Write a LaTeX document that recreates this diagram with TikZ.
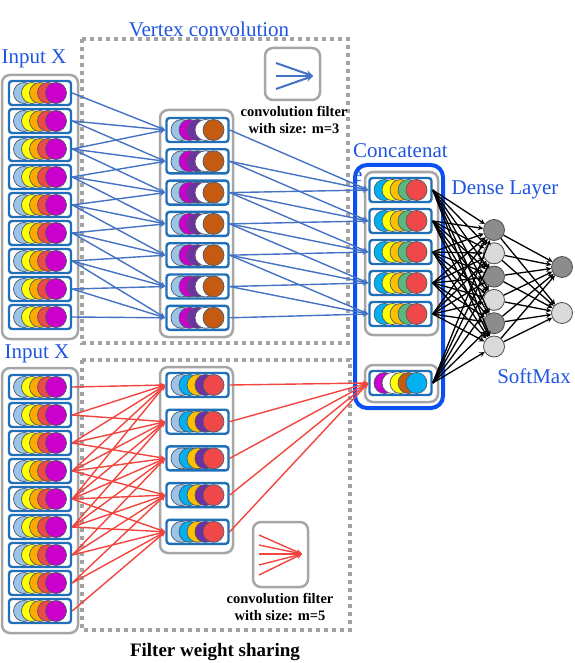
\documentclass[tikz,border=0pt]{standalone}
\usepackage{fontspec}
\setmainfont{Liberation Serif}
\usetikzlibrary{positioning}

\definecolor{panelgray}{HTML}{A6A6A6}
\definecolor{dotgray}{HTML}{A3A3A3}
\definecolor{rowblue}{HTML}{1F70B8}
\definecolor{circedge}{HTML}{4A5A70}
\definecolor{linkblue}{HTML}{4472C4}
\definecolor{linkred}{HTML}{F2453D}
\definecolor{titleblue}{HTML}{1F55E0}
\definecolor{catblue}{HTML}{0A50F0}
\definecolor{lblue}{HTML}{9DC3E6}
\definecolor{yel}{HTML}{FFFF00}
\definecolor{org}{HTML}{FFA800}
\definecolor{gold}{HTML}{FFC000}
\definecolor{redc}{HTML}{F04848}
\definecolor{mag}{HTML}{CC00CC}
\definecolor{purp}{HTML}{7030A0}
\definecolor{brown}{HTML}{C55A11}
\definecolor{cyan}{HTML}{00B0F0}
\definecolor{greenc}{HTML}{5CB87A}
\definecolor{darkn}{HTML}{8C8C8C}
\definecolor{lightn}{HTML}{DADADA}

\tikzset{
  panel/.style={draw=panelgray, line width=2.5pt, rounded corners=8pt, fill=white},
  cellbox/.style={draw=rowblue, line width=2.4pt, rounded corners=3pt, fill=white,
    minimum width=62pt, minimum height=24pt, inner sep=0pt},
  dotbox/.style={draw=dotgray, line width=4pt, dash pattern=on 4pt off 4pt},
  bluelink/.style={-stealth, draw=linkblue, line width=1.4pt},
  redlink/.style={-stealth, draw=linkred, line width=1.4pt},
  denselink/.style={-stealth, draw=black, line width=1.3pt},
  neuron/.style={circle, draw=gray!60!black, line width=0.8pt, minimum size=21pt, inner sep=0pt},
  bluetitle/.style={text=titleblue, font=\fontsize{21}{24}\selectfont, inner sep=0pt},
  filternote/.style={font=\bfseries\fontsize{14.5}{16.5}\selectfont, align=center, inner sep=0pt},
}

% one row of overlapping feature circles
\newcommand\cellrow[4]{%
  \node[cellbox] (#1) at (#2,#3) {};
  \foreach \col [count=\k from 0] in {#4}
    \filldraw[fill=\col, draw=circedge, line width=0.7pt] ({#2-16+8*\k},#3) circle[radius=10.5pt];
}

\begin{document}
\begin{tikzpicture}[x=1pt, y=-1pt]
    \useasboundingbox (0,0) rectangle (574,663);

    % Dotted frames
    \draw[dotbox] (82,39) rectangle (348,343);
    \draw[dotbox] (82,360) rectangle (350,630);

    % Concatenate frame
    \draw[draw=catblue, line width=4pt, rounded corners=12pt] (355,165) rectangle (443,408);
    \node[bluetitle, anchor=north west, align=left] (cattitle) at (353,143.5) {Concatenat\\e};

    % Gray panels
    \draw[panel] (2,75) rectangle (78,339);
    \draw[panel] (160,110) rectangle (233,337);
    \draw[panel] (2,368) rectangle (78,633);
    \draw[panel] (160,367) rectangle (233,553);
    \draw[panel] (365,172) rectangle (438,335);
    \draw[panel] (365,365) rectangle (438,402);

    % Input X (top)
    \foreach \i in {1,...,9} {
      \pgfmathsetmacro\yy{93+28*(\i-1)}
      \cellrow{in\i}{40}{\yy}{lblue,yel,org,redc,mag}
    }
    % Vertex convolution output
    \foreach \j in {1,...,7} {
      \pgfmathsetmacro\yy{130+31.3*(\j-1)}
      \cellrow{mid\j}{197.5}{\yy}{lblue,mag,purp,white,brown}
    }
    % Input X (bottom)
    \foreach \i in {1,...,9} {
      \pgfmathsetmacro\yy{387+28*(\i-1)}
      \cellrow{bin\i}{40}{\yy}{lblue,yel,org,redc,mag}
    }
    % Filter weight sharing output
    \foreach \j in {1,...,5} {
      \pgfmathsetmacro\yy{385+36.7*(\j-1)}
      \cellrow{bmid\j}{197.5}{\yy}{lblue,cyan,gold,purp,redc}
    }
    % Concatenated rows
    \foreach \j in {1,...,5} {
      \pgfmathsetmacro\yy{190+31*(\j-1)}
      \cellrow{cat\j}{400.5}{\yy}{cyan,yel,gold,greenc,redc}
    }
    \cellrow{catb}{400.5}{383}{mag,white,yel,brown,cyan}

    % Dense layer and softmax
    \foreach \k/\shade in {1/darkn,2/lightn,3/darkn,4/lightn,5/darkn,6/lightn} {
      \pgfmathsetmacro\yy{230+23.3*(\k-1)}
      \node[neuron, fill=\shade] (d\k) at (494,\yy) {};
    }
    \node[neuron, fill=darkn] (s1) at (562,267) {};
    \node[neuron, fill=lightn] (s2) at (562,313) {};

    % Arrows, top branch (m=3)
    \foreach \j in {1,...,7}
      \foreach \k in {0,1,2} {
        \pgfmathtruncatemacro\i{\j+\k}
        \draw[bluelink] (in\i.east) -- (mid\j.west);
      }
    \foreach \j in {1,...,5}
      \foreach \k in {0,1,2} {
        \pgfmathtruncatemacro\i{\j+\k}
        \draw[bluelink] (mid\i.east) -- (cat\j.west);
      }

    % Arrows, bottom branch (m=5)
    \foreach \j in {1,...,5}
      \foreach \k in {0,...,4} {
        \pgfmathtruncatemacro\i{\j+\k}
        \draw[redlink] (bin\i.east) -- (bmid\j.west);
      }
    \foreach \j in {1,...,5}
      \draw[redlink] (bmid\j.east) -- (catb.west);

    % Arrows, dense part
    \foreach \j in {cat1,cat2,cat3,cat4,cat5,catb}
      \foreach \k in {1,...,6}
        \draw[denselink] (\j.east) -- (d\k);
    \foreach \k in {1,...,6}
      \foreach \m in {1,2}
        \draw[denselink] (d\k) -- (s\m);

    % Filter icons
    \draw[panel] (265,48) rectangle (320,100);
    \coordinate (ftip) at (313,76);
    \foreach \yy in {63,76,89}
      \draw[bluelink, line width=2pt] (276,\yy) -- (ftip);
    \draw[panel] (253,522) rectangle (308,587);
    \coordinate (btip) at (302,554);
    \foreach \yy in {535,545,554,565,575}
      \draw[redlink] (259,\yy) -- (btip);

    % Text labels
    \node[bluetitle] (vtitle) at (209,29) {Vertex convolution};
    \node[bluetitle] (intop) at (34,59) {Input X};
    \node[bluetitle] (inbot) at (37,354) {Input X};
    \node[bluetitle] (dtitle) at (505,190) {Dense Layer};
    \node[bluetitle] (stitle) at (534,376) {SoftMax};
    \node[filternote] (ftext) at (294,120) {convolution filter\\with size: m=3};
    \node[filternote] (btext) at (280,607) {convolution filter\\with size: m=5};
    \node[font=\bfseries\fontsize{19}{22}\selectfont, inner sep=0pt] (share) at (215,652) {Filter weight sharing};
\end{tikzpicture}
\end{document}
